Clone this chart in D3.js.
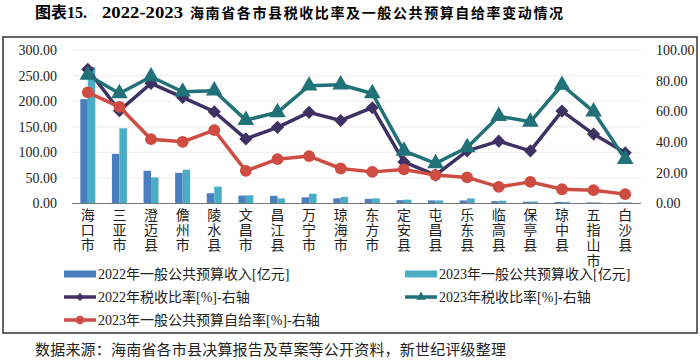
<!DOCTYPE html>
<html>
<head>
<meta charset="utf-8">
<title>海南省各市县税收比率</title>
<style>
  body { margin: 0; background: #fff; }
  svg text { font-family: "Liberation Serif", "Noto Sans CJK SC", serif; }
</style>
</head>
<body>
<div id="chart"></div>
<script src="https://cdn.jsdelivr.net/npm/d3@7"></script>
<script>
var cities = ['海口市','三亚市','澄迈县','儋州市','陵水县','文昌市','昌江县','万宁市','琼海市',
              '东方市','定安县','屯昌县','乐东县','临高县','保亭县','琼中县','五指山市','白沙县'];
var rev2022 = [204, 97, 64, 60, 20, 15.5, 15, 12, 10, 9, 6.5, 6, 6, 4.5, 3.5, 3, 2, 2];
var rev2023 = [267, 147, 51, 66, 33, 16, 10, 19, 13, 10, 7.5, 6, 10, 5.5, 4, 3, 2, 2];
var tax2022 = [87.4, 60.4, 78.3, 69.1, 59.8, 42.1, 49.6, 59.4, 54.1, 62.4, 27.1, 18.5, 34.3, 40.6, 34.3, 60.2, 45.2, 33];
var tax2023 = [83.7, 71.7, 82.6, 72.8, 73.5, 54.3, 59.4, 76.7, 77.4, 71.7, 34.3, 26.1, 36.5, 56.9, 53.2, 77.2, 59.8, 28.9];
var selfSuff2023 = [72.4, 63, 41.9, 40.2, 47.8, 21.3, 28.9, 30.9, 22.8, 20.6, 22.2, 18.5, 17, 10.8, 14.1, 9.3, 8.7, 6.1];
var leftTicks = [0, 50, 100, 150, 200, 250, 300];
var rightTicks = [0, 20, 40, 60, 80, 100];

var W = 700, H = 362;
var pLeft = 72, pRight = 641, pTop = 50, pBottom = 203.5;

var svg = d3.select('#chart').append('svg')
  .attr('width', W).attr('height', H);

// title + outer frame
var title = svg.append('text').attr('y', 18).style('font-weight', 'bold');
title.append('tspan').attr('x', 35).style('font-size', '16px').text('图表15.');
title.append('tspan').attr('x', 102).style('font-size', '16px')
  .attr('textLength', 81).attr('lengthAdjust', 'spacingAndGlyphs').text('2022-2023');
title.append('tspan').attr('x', 190).style('font-size', '14px')
  .attr('textLength', 373).attr('lengthAdjust', 'spacing')
  .text('海南省各市县税收比率及一般公共预算自给率变动情况');

svg.append('rect')
  .attr('x', 3).attr('y', 37).attr('width', 694).attr('height', 296)
  .attr('fill', 'none').attr('stroke', '#333').attr('stroke-width', 1.5);

var x = d3.scaleBand().domain(cities).range([pLeft, pRight]);
var xs = d3.scaleBand().domain(['a', 'b']).range([0, 15]);
var yL = d3.scaleLinear().domain([0, 300]).range([pBottom, pTop]);
var yR = d3.scaleLinear().domain([0, 100]).range([pBottom, pTop]);

// grid
svg.append('g').selectAll('line').data(leftTicks.slice(1)).join('line')
  .attr('x1', pLeft).attr('x2', pRight)
  .attr('y1', d => yL(d)).attr('y2', d => yL(d))
  .attr('stroke', '#ececec').attr('stroke-width', 1);

// axis labels
var gl = svg.append('g').attr('transform', 'translate(' + (pLeft - 12) + ',0)')
  .call(d3.axisLeft(yL).tickValues(leftTicks).tickFormat(d3.format('.2f')).tickSize(0));
gl.select('.domain').remove();
gl.selectAll('text').style('font-size', '14px').style('font-family', '"Liberation Serif", serif').attr('fill', '#222');

var gr = svg.append('g').attr('transform', 'translate(' + (pRight + 12) + ',0)')
  .call(d3.axisRight(yR).tickValues(rightTicks).tickFormat(d3.format('.2f')).tickSize(0));
gr.select('.domain').remove();
gr.selectAll('text').style('font-size', '14px').style('font-family', '"Liberation Serif", serif').attr('fill', '#222');

// bars
var c22 = '#4a7ebe', c23 = '#4bacc6', cTax22 = '#3e3163', cTax23 = '#217179', cSelf = '#cf4c42';
svg.append('g').selectAll('rect').data(rev2022).join('rect')
  .attr('x', (d, i) => x(cities[i]) + (x.bandwidth() - 15) / 2 + xs('a'))
  .attr('width', xs.bandwidth())
  .attr('y', d => yL(d)).attr('height', d => pBottom - yL(d))
  .attr('fill', c22);
svg.append('g').selectAll('rect').data(rev2023).join('rect')
  .attr('x', (d, i) => x(cities[i]) + (x.bandwidth() - 15) / 2 + xs('b'))
  .attr('width', xs.bandwidth())
  .attr('y', d => yL(d)).attr('height', d => pBottom - yL(d))
  .attr('fill', c23);

// x axis line
svg.append('line')
  .attr('x1', pLeft).attr('x2', pRight).attr('y1', pBottom).attr('y2', pBottom)
  .attr('stroke', '#777').attr('stroke-width', 1);

// vertical city labels
svg.append('g').selectAll('text').data(cities).join('text')
  .attr('text-anchor', 'middle')
  .style('font-size', '14px').attr('fill', '#222')
  .each(function(d) {
    var t = d3.select(this);
    d.split('').forEach((ch, k) => {
      t.append('tspan')
        .attr('x', x(d) + x.bandwidth() / 2)
        .attr('y', 220 + k * 15.2)
        .text(ch);
    });
  });

var cx = (d, i) => x(cities[i]) + x.bandwidth() / 2;
function drawLine(data, color, shape, size) {
  var line = d3.line().x(cx).y(d => yR(d));
  svg.append('path').datum(data)
    .attr('d', line).attr('fill', 'none')
    .attr('stroke', color).attr('stroke-width', 3.5).attr('stroke-linejoin', 'round');
  svg.append('g').selectAll('path').data(data).join('path')
    .attr('d', d3.symbol().type(shape).size(size))
    .attr('transform', (d, i) => 'translate(' + cx(d, i) + ',' + yR(d) + ')')
    .attr('fill', color);
}
drawLine(tax2022, cTax22, d3.symbolDiamond2, 110);
drawLine(tax2023, cTax23, d3.symbolTriangle, 120);
drawLine(selfSuff2023, cSelf, d3.symbolCircle, 110);

// legend
var legend = [
  {name: '2022年一般公共预算收入[亿元]', color: c22, type: 'bar', x: 64, y: 274},
  {name: '2023年一般公共预算收入[亿元]', color: c23, type: 'bar', x: 405, y: 274},
  {name: '2022年税收比率[%]-右轴', color: cTax22, type: 'line', shape: d3.symbolDiamond2, x: 64, y: 297},
  {name: '2023年税收比率[%]-右轴', color: cTax23, type: 'line', shape: d3.symbolTriangle, x: 405, y: 297},
  {name: '2023年一般公共预算自给率[%]-右轴', color: cSelf, type: 'line', shape: d3.symbolCircle, x: 64, y: 320}
];
svg.append('g').selectAll('g').data(legend).join('g')
  .attr('transform', d => 'translate(' + d.x + ',' + d.y + ')')
  .each(function(d) {
    var g = d3.select(this);
    if (d.type === 'bar') {
      g.append('rect').attr('x', 0).attr('y', -3.5).attr('width', 32).attr('height', 7).attr('fill', d.color);
    } else {
      g.append('line').attr('x1', 0).attr('x2', 32).attr('y1', 0).attr('y2', 0)
        .attr('stroke', d.color).attr('stroke-width', 3.5);
      g.append('path').attr('d', d3.symbol().type(d.shape).size(d.shape === d3.symbolCircle ? 60 : 40))
        .attr('transform', 'translate(16,0)').attr('fill', d.color);
    }
    g.append('text').attr('x', 34).attr('y', 5)
      .style('font-size', '14px').attr('fill', '#222').text(d.name);
  });

// source
svg.append('text')
  .attr('x', 35).attr('y', 355)
  .attr('textLength', 471).attr('lengthAdjust', 'spacing')
  .style('font-size', '15px').attr('fill', '#222')
  .text('数据来源：海南省各市县决算报告及草案等公开资料，新世纪评级整理');
</script>
</body>
</html>
